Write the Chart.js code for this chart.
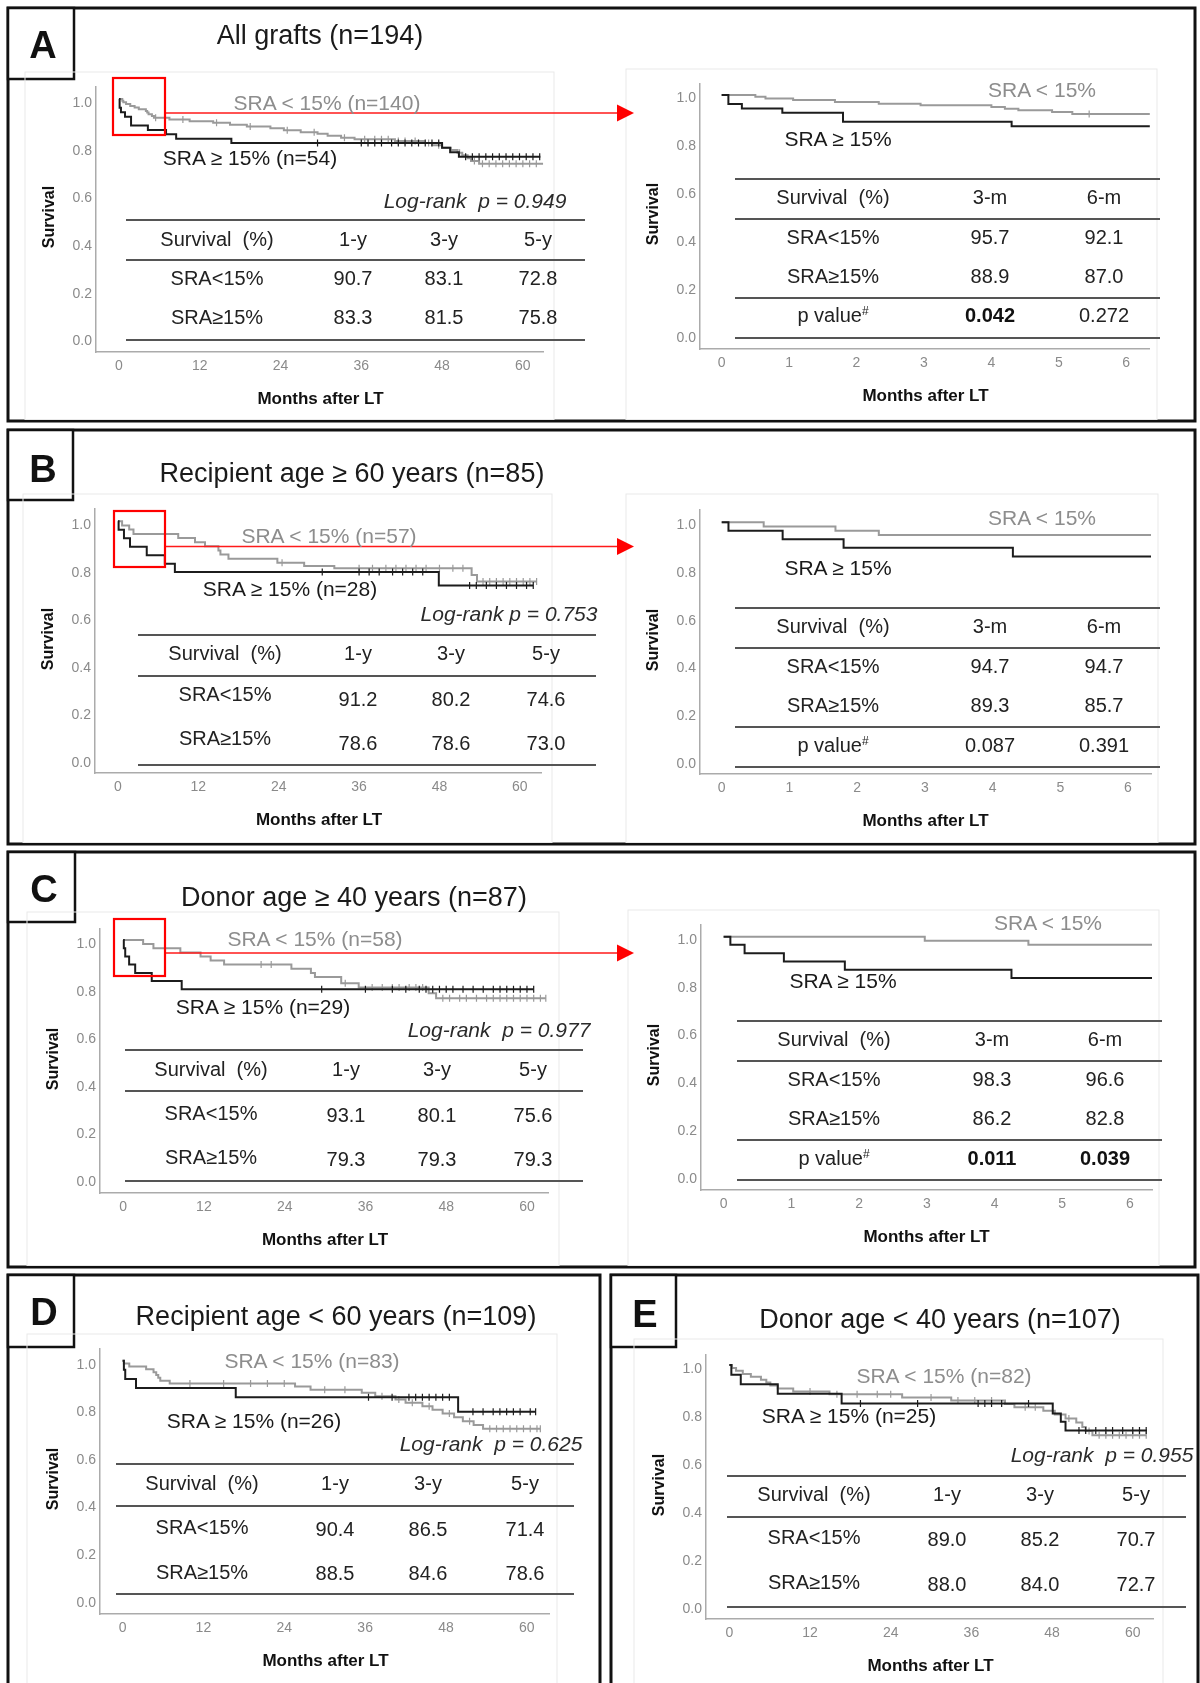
<!DOCTYPE html>
<html>
<head>
<meta charset="utf-8">
<script src="https://cdn.jsdelivr.net/npm/chart.js@4.4.1/dist/chart.umd.min.js"></script>
<style>
  html, body { margin: 0; padding: 0; background: #fff; }
  body { width: 1200px; height: 1683px; position: relative; overflow: hidden;
         font-family: "Liberation Sans", Arial, sans-serif; color: #222; }
  canvas { position: absolute; z-index: 1; }
  #deco { position: absolute; left: 0; top: 0; z-index: 2; pointer-events: none; }
  .t { position: absolute; white-space: pre; line-height: 1; z-index: 3;
       transform: translate(-50%, -50%); }
  .t sup { font-size: 0.6em; vertical-align: 0.55em; line-height: 0; }
</style>
</head>
<body>
<svg id="deco" width="1200" height="1683" xmlns="http://www.w3.org/2000/svg"></svg>
<script>
// ---------------- data ----------------
const panelLetters = ['A', 'B', 'C', 'D', 'E'];
const panelTitles = [
  'All grafts (n=194)',
  'Recipient age \u2265 60 years (n=85)',
  'Donor age \u2265 40 years (n=87)',
  'Recipient age < 60 years (n=109)',
  'Donor age < 40 years (n=107)'
];
const nLow = [140, 57, 58, 83, 82];
const nHigh = [54, 28, 29, 26, 25];
const logRankP = ['0.949', '0.753', '0.977', '0.625', '0.955'];
const groupRows = ['SRA<15%', 'SRA\u226515%'];

const xTicksYears = [0, 12, 24, 36, 48, 60];
const xTickLabelsYears = ['0', '12', '24', '36', '48', '60'];
const xTicksMonths = [0, 1, 2, 3, 4, 5, 6];
const xTickLabelsMonths = ['0', '1', '2', '3', '4', '5', '6'];
const yTicks = [0, 0.2, 0.4, 0.6, 0.8, 1.0];
const yTickLabels = ['0.0', '0.2', '0.4', '0.6', '0.8', '1.0'];

const yearCols = ['1-y', '3-y', '5-y'];
const monthCols = ['3-m', '6-m'];

// survival (%) at 1, 3, 5 years
const yearLow  = [[90.7, 83.1, 72.8], [91.2, 80.2, 74.6], [93.1, 80.1, 75.6], [90.4, 86.5, 71.4], [89.0, 85.2, 70.7]];
const yearHigh = [[83.3, 81.5, 75.8], [78.6, 78.6, 73.0], [79.3, 79.3, 79.3], [88.5, 84.6, 78.6], [88.0, 84.0, 72.7]];
// survival (%) at 3 and 6 months, with p values (panels A-C)
const monthLow  = [[95.7, 92.1], [94.7, 94.7], [98.3, 96.6]];
const monthHigh = [[88.9, 87.0], [89.3, 85.7], [86.2, 82.8]];
const monthP    = [[0.042, 0.272], [0.087, 0.391], [0.011, 0.039]];

// Kaplan-Meier steps: event times (months) and survival after each step
const A_lowT = [0, 0.5, 0.65, 1.06, 1.68, 2.33, 2.95, 4.0, 4.2, 4.4, 4.9, 5.2, 7.5, 10.5, 14, 16.5, 19, 22.5, 24.5, 27, 29.5, 31, 33, 35, 41, 45.3, 46.5, 48, 49.3, 50.3, 51, 51.8, 52.3, 53.5, 63];
const A_lowS = [1, .993, .986, .979, .971, .964, .957, .950, .943, .936, .929, .921, .914, .907, .900, .892, .885, .877, .869, .861, .854, .846, .838, .831, .824, .816, .806, .796, .786, .775, .764, .752, .740, .728, .728];
const A_lowCens = [5.45, 9.5, 14.5, 19.5, 25, 29, 33.5, 36.5, 38, 39, 40, 41.5, 42.5, 44, 46, 47.5, 50.6, 52.8, 54, 55, 56, 57, 58, 59, 60, 61, 62];
const A_highT = [0, 0.1, 0.3, 0.9, 1.8, 4.3, 7.0, 8.5, 16.7, 48.0, 49.2, 50.5, 62.6];
const A_highS = [1, .963, .944, .926, .889, .870, .852, .833, .815, .796, .777, .758, .758];
const A_highCens = [29.5, 36, 37, 38, 39, 40.5, 41.5, 42.5, 43.5, 44.5, 45.5, 46.5, 47.5, 51.5, 52.5, 53.5, 54.5, 55.5, 56.5, 57.5, 58.5, 59.5, 60.5, 61.5, 62.5];

const B_lowT = [0, 0.62, 1.68, 2.32, 9.0, 11.5, 13.0, 15.0, 15.3, 16.5, 23.8, 27.8, 32.3, 52.8, 53.6, 62.5];
const B_lowS = [1, .982, .965, .947, .930, .912, .895, .877, .860, .842, .825, .812, .802, .774, .746, .746];
const B_lowCens = [24.5, 36, 38, 40, 41.5, 43, 44.5, 46, 48, 50, 51.5, 54.5, 55.5, 56.5, 57.5, 58.5, 59.5, 60.5, 61.5, 62.5];
const B_highT = [0, 0.1, 0.9, 1.8, 4.3, 7.0, 8.5, 47.9, 62];
const B_highS = [1, .964, .929, .893, .857, .821, .786, .730, .730];
const B_highCens = [30.5, 36, 37.5, 39, 41, 42.5, 44, 45.5, 52.5, 53.5, 55, 56.5, 58, 59.5, 61, 62];

const C_lowT = [0, 2.97, 4.5, 8.5, 11.5, 13.0, 15.0, 25.0, 27.9, 28.5, 32.4, 35.0, 45.4, 46.5, 62.8];
const C_lowS = [1, .983, .966, .948, .931, .914, .897, .879, .862, .845, .819, .801, .776, .756, .756];
const C_lowCens = [20.5, 22, 33, 37, 38.5, 40, 41, 42.5, 43.5, 44.5, 47.5, 48.5, 50, 51, 52.5, 54, 55, 56, 57, 58, 59, 60, 61, 62, 62.8];
const C_highT = [0, 0.1, 0.31, 0.89, 1.79, 4.25, 8.7, 61];
const C_highS = [1, .966, .931, .897, .862, .828, .793, .793];
const C_highCens = [29.5, 36, 40, 42, 44, 45, 46, 47, 48, 49, 50.5, 52, 53.5, 55, 56, 57, 58, 59, 60, 61];

const D_lowT = [0, 0.2, 1.0, 3.5, 4.6, 5.0, 5.3, 5.6, 7.0, 25.6, 27.9, 35.5, 37.5, 40.5, 42.0, 44.5, 46.0, 47.5, 49.2, 50.5, 52.1, 53.5, 62];
const D_lowS = [1, .988, .976, .964, .952, .940, .928, .916, .904, .892, .878, .865, .851, .837, .823, .809, .794, .778, .762, .746, .730, .714, .714];
const D_lowCens = [10, 15, 19, 21.5, 24, 30, 33, 38.5, 41, 43, 45.5, 48.5, 51.5, 54.5, 55.5, 56.5, 57.5, 58.5, 59.5, 60.5, 61.5, 62];
const D_highT = [0, 0.2, 0.4, 2.0, 16.8, 49.8, 61.3];
const D_highS = [1, .962, .923, .885, .846, .786, .786];
const D_highCens = [36.5, 40, 42.5, 43.5, 44.5, 45.5, 46.5, 47.5, 48.5, 52, 53.5, 55, 56, 57, 58, 59, 60.5, 61.3];

const E_lowT = [0, 0.4, 1.0, 2.0, 3.2, 4.7, 5.5, 6.1, 7.2, 9.5, 14.9, 25.7, 33.0, 41.0, 42.4, 46.7, 48.4, 50.0, 51.6, 52.5, 53.0, 54.0, 62];
const E_lowS = [1, .988, .976, .963, .951, .939, .927, .915, .902, .890, .878, .865, .852, .838, .824, .809, .794, .777, .760, .742, .725, .707, .707];
const E_lowCens = [12, 16, 19, 22, 24, 30, 34, 36.5, 39, 44, 45.5, 50.5, 53.5, 55, 56, 57, 58, 59, 60, 61, 62];
const E_highT = [0, 0.3, 1.7, 7.2, 16.7, 48.1, 49.3, 50.0, 62.1];
const E_highS = [1, .960, .920, .880, .840, .798, .763, .727, .727];
const E_highCens = [19.5, 28, 37, 38, 39, 40.5, 44.5, 52, 53, 54.5, 56, 57, 58.5, 60, 61, 62];

const lowTimes = [A_lowT, B_lowT, C_lowT, D_lowT, E_lowT];
const lowSurv = [A_lowS, B_lowS, C_lowS, D_lowS, E_lowS];
const lowCens = [A_lowCens, B_lowCens, C_lowCens, D_lowCens, E_lowCens];
const highTimes = [A_highT, B_highT, C_highT, D_highT, E_highT];
const highSurv = [A_highS, B_highS, C_highS, D_highS, E_highS];
const highCens = [A_highCens, B_highCens, C_highCens, D_highCens, E_highCens];

// ---------------- styling ----------------
const FAM = '"Liberation Sans", Arial, sans-serif';
const COL_LOW = '#9a9a9a';
const COL_HIGH = '#1c1c1c';
const COL_LOW_TXT = '#8d8d8d';
const COL_AXIS = '#ababab';
const COL_TICK = '#8a8a8a';
const COL_RULE = '#555555';

// ---------------- layout ----------------
const panelBoxes = [[8, 8, 1195, 421], [8, 430, 1195, 844], [8, 852, 1195, 1267], [8, 1275, 600, 1700], [611, 1275, 1198, 1700]];
const letterBoxes = [[8, 8, 74, 79], [8, 430, 73, 500], [8, 852, 75, 922], [8, 1275, 74, 1347], [611, 1275, 676, 1347]];
const letterPos = [[43, 45], [43, 469], [44, 889], [44, 1312], [645, 1314]];
const titlePos = [[320, 35], [352, 473], [354, 897], [336, 1316], [940, 1319]];

// chart plot boxes: axis box (l, r, t, b), pixel of x=0 / last x tick,
// label pixel of y=1 / y=0, and the shift between tick label and value line (off)
const charts = [
  { p: 0, kind: 'yr', l: 96, r: 545, t: 78, b: 352, x0: 119, xN: 524, y1: 95, y0: 341, off: 4,
    frame: [25, 72, 554], lowLbl: [327, 102], highLbl: [250, 157], lr: [475, 200],
    rules: [220, 260, 340], rx: [126, 585], hy: 239, lblY: [278, 317], valY: [278, 317], cols: [217, 353, 444, 538] },
  { p: 0, kind: 'mo', l: 700, r: 1151, t: 75, b: 349, x0: 721.7, xN: 1127.4, y1: 90, y0: 337.3, off: 3,
    frame: [626, 69, 1157], lowLbl: [1042, 89], highLbl: [838, 138],
    rules: [179, 219, 298, 338], rx: [735, 1160], hy: 197, rowY: [237, 276, 315], cols: [833, 990, 1104] },
  { p: 1, kind: 'yr', l: 95, r: 543, t: 500, b: 773, x0: 118, xN: 521, y1: 517.3, y0: 762.3, off: 4,
    frame: [23, 494, 552], lowLbl: [329, 535], highLbl: [290, 588], lr: [509, 613], single: true,
    rules: [635, 676, 765], rx: [138, 596], hy: 653, lblY: [694, 738], valY: [699, 743], cols: [225, 358, 451, 546] },
  { p: 1, kind: 'mo', l: 700, r: 1151, t: 501, b: 774, x0: 721.7, xN: 1128, y1: 517.3, y0: 763.3, off: 3,
    frame: [626, 494, 1158], lowLbl: [1042, 517], highLbl: [838, 567],
    rules: [608, 648, 727, 767], rx: [735, 1160], hy: 626, rowY: [666, 705, 745], cols: [833, 990, 1104] },
  { p: 2, kind: 'yr', l: 100, r: 550, t: 920, b: 1193, x0: 123.2, xN: 528.1, y1: 936, y0: 1181.7, off: 4,
    frame: [27, 912, 559], lowLbl: [315, 938], highLbl: [263, 1006], lr: [499, 1029],
    rules: [1050, 1091, 1181], rx: [125, 583], hy: 1069, lblY: [1113, 1157], valY: [1115, 1159], cols: [211, 346, 437, 533] },
  { p: 2, kind: 'mo', l: 701, r: 1152, t: 916, b: 1190, x0: 723.6, xN: 1130, y1: 931.7, y0: 1179, off: 3,
    frame: [628, 910, 1159], lowLbl: [1048, 922], highLbl: [843, 980],
    rules: [1021, 1061, 1140, 1180], rx: [737, 1162], hy: 1039, rowY: [1079, 1118, 1158], cols: [834, 992, 1105] },
  { p: 3, kind: 'yr', l: 100, r: 551, t: 1340, b: 1614, x0: 122.6, xN: 528, y1: 1356.7, y0: 1602.3, off: 4,
    frame: [27, 1334, 557], lowLbl: [312, 1360], highLbl: [254, 1420], lr: [491, 1443],
    rules: [1464, 1506, 1594], rx: [116, 574], hy: 1483, lblY: [1527, 1572], valY: [1529, 1573], cols: [202, 335, 428, 525] },
  { p: 4, kind: 'yr', l: 706, r: 1155, t: 1346, b: 1619, x0: 729.4, xN: 1133.9, y1: 1361, y0: 1608.3, off: 4,
    frame: [634, 1339, 1163], lowLbl: [944, 1375], highLbl: [849, 1415], lr: [1102, 1454],
    rules: [1476, 1517, 1607], rx: [727, 1186], hy: 1494, lblY: [1537, 1582], valY: [1539, 1584], cols: [814, 947, 1040, 1136] }
];

// zoom call-outs (red box around the first months, pointer to the detail chart)
const callouts = [
  { box: [113, 78, 165, 135], y: 113, tip: 634 },
  { box: [114, 511, 165, 567], y: 546.5, tip: 634 },
  { box: [114, 919, 165, 976], y: 953, tip: 634 }
];

// ---------------- helpers ----------------
const svgNS = 'http://www.w3.org/2000/svg';
const deco = document.getElementById('deco');
function svgEl(tag, attrs) {
  const e = document.createElementNS(svgNS, tag);
  for (const k in attrs) e.setAttribute(k, attrs[k]);
  deco.appendChild(e);
  return e;
}
function hline(x1, x2, y, color, w) {
  svgEl('line', { x1, x2, y1: y, y2: y, stroke: color, 'stroke-width': w });
}
function txt(x, y, s, o = {}) {
  const d = document.createElement('div');
  d.className = 't';
  d.style.left = x + 'px';
  d.style.top = y + 'px';
  d.style.fontSize = (o.size || 20) + 'px';
  d.style.fontWeight = o.bold ? 'bold' : 'normal';
  d.style.fontStyle = o.italic ? 'italic' : 'normal';
  d.style.color = o.color || '#222';
  if (o.rotate) d.style.transform = 'translate(-50%, -50%) rotate(-90deg)';
  if (o.html) d.innerHTML = s; else d.textContent = s;
  document.body.appendChild(d);
  return d;
}
function stepValue(t, s, x) {
  let v = s[0];
  for (let i = 0; i < t.length; i++) if (t[i] <= x) v = s[i];
  return v;
}
function kmDatasets(t, s, cens, color, xmax) {
  const line = t.map((v, i) => ({ x: v, y: s[i] }));
  const marks = cens.filter(c => c <= xmax).map(c => ({ x: c, y: stepValue(t, s, c) }));
  return [
    { data: marks, showLine: false, pointStyle: 'line', pointRotation: 90, pointRadius: 3.5,
      pointBorderWidth: 1.2, pointBorderColor: color, borderColor: color, backgroundColor: color },
    { data: line, stepped: 'before', borderColor: color, borderWidth: 2, pointRadius: 0, fill: false }
  ];
}

// ---------------- panels ----------------
panelBoxes.forEach((b, i) => {
  svgEl('rect', { x: b[0], y: b[1], width: b[2] - b[0], height: b[3] - b[1], fill: 'none', stroke: '#111', 'stroke-width': 3 });
  const lb = letterBoxes[i];
  svgEl('rect', { x: lb[0], y: lb[1], width: lb[2] - lb[0], height: lb[3] - lb[1], fill: '#fff', stroke: '#111', 'stroke-width': 2.5 });
  txt(letterPos[i][0], letterPos[i][1], panelLetters[i], { size: 38, bold: true, color: '#111' });
  txt(titlePos[i][0], titlePos[i][1], panelTitles[i], { size: 27, color: '#1a1a1a' });
});

// ---------------- charts ----------------
charts.forEach(g => {
  const p = g.p;
  const yr = g.kind === 'yr';
  const xTicks = yr ? xTicksYears : xTicksMonths;
  const xLabels = yr ? xTickLabelsYears : xTickLabelsMonths;
  const ppx = (g.xN - g.x0) / xTicks[xTicks.length - 1];
  const v1 = g.y1 - g.off, v0 = g.y0 - g.off;   // pixel of value 1 and 0
  const ppy = v0 - v1;
  const xmin = (g.l - g.x0) / ppx, xmax = (g.r - g.x0) / ppx;
  const ymax = (v0 - g.t) / ppy, ymin = (v0 - g.b) / ppy;

  // faint frame of the plot image
  const pb = panelBoxes[p];
  svgEl('rect', { x: g.frame[0], y: g.frame[1], width: g.frame[2] - g.frame[0], height: pb[3] - g.frame[1] - 1.5,
    fill: 'none', stroke: '#e9e9e9', 'stroke-width': 1 });

  const padL = 44, padR = 4, padT = 4, padB = 30;
  const W = g.r - g.l + padL + padR, H = g.b - g.t + padT + padB;
  const cv = document.createElement('canvas');
  cv.width = W; cv.height = H;
  cv.style.width = W + 'px'; cv.style.height = H + 'px';
  cv.style.left = (g.l - padL) + 'px'; cv.style.top = (g.t - padT) + 'px';
  document.body.appendChild(cv);

  const datasets = [
    ...kmDatasets(highTimes[p], highSurv[p], highCens[p], COL_HIGH, xmax),
    ...kmDatasets(lowTimes[p], lowSurv[p], lowCens[p], COL_LOW, xmax)
  ];

  new Chart(cv, {
    type: 'line',
    data: { datasets },
    options: {
      responsive: false, animation: false, events: [],
      layout: { padding: { left: 0, right: padR, top: padT, bottom: 0 } },
      plugins: { legend: { display: false }, tooltip: { enabled: false } },
      scales: {
        x: {
          type: 'linear', min: xmin, max: xmax,
          afterFit: s => { s.height = padB; },
          afterBuildTicks: s => { s.ticks = xTicks.map(v => ({ value: v })); },
          ticks: { padding: 6, color: COL_TICK, font: { size: 14, family: FAM }, maxRotation: 0, autoSkip: false,
                   callback: (v, i) => xLabels[i] },
          grid: { display: false, drawTicks: false },
          border: { display: true, color: COL_AXIS, width: 1.5 }
        },
        y: {
          type: 'linear', min: ymin, max: ymax,
          afterFit: s => { s.width = padL; },
          afterBuildTicks: s => { s.ticks = yTicks.map(v => ({ value: v })); },
          ticks: { padding: 4, labelOffset: g.off, color: COL_TICK, font: { size: 14, family: FAM }, autoSkip: false,
                   callback: (v, i) => yTickLabels[i] },
          grid: { display: false, drawTicks: false },
          border: { display: true, color: COL_AXIS, width: 1.5 }
        }
      }
    }
  });

  // axis titles
  txt((g.l + g.r) / 2, g.b + 46, 'Months after LT', { size: 17, bold: true, color: '#111' });
  txt(g.l - 47.5, (g.t + g.b) / 2 + 2, 'Survival', { size: 16, bold: true, color: '#111', rotate: true });

  // curve labels
  if (yr) {
    txt(g.lowLbl[0], g.lowLbl[1], 'SRA < 15% (n=' + nLow[p] + ')', { size: 21, color: COL_LOW_TXT });
    txt(g.highLbl[0], g.highLbl[1], 'SRA \u2265 15% (n=' + nHigh[p] + ')', { size: 21, color: '#1a1a1a' });
    txt(g.lr[0], g.lr[1], 'Log-rank' + (g.single ? ' ' : '  ') + 'p = ' + logRankP[p], { size: 21, italic: true, color: '#2a2a2a' });
  } else {
    txt(g.lowLbl[0], g.lowLbl[1], 'SRA < 15%', { size: 21, color: COL_LOW_TXT });
    txt(g.highLbl[0], g.highLbl[1], 'SRA \u2265 15%', { size: 21, color: '#1a1a1a' });
  }

  // survival table
  g.rules.forEach(y => hline(g.rx[0], g.rx[1], y, COL_RULE, 2));
  const heads = yr ? yearCols : monthCols;
  txt(g.cols[0], g.hy, 'Survival  (%)', { size: 20 });
  heads.forEach((h, j) => txt(g.cols[j + 1], g.hy, h, { size: 20 }));
  if (yr) {
    [yearLow[p], yearHigh[p]].forEach((vals, r) => {
      txt(g.cols[0], g.lblY[r], groupRows[r], { size: 20 });
      vals.forEach((v, j) => txt(g.cols[j + 1], g.valY[r], v.toFixed(1), { size: 20 }));
    });
  } else {
    [monthLow[p], monthHigh[p]].forEach((vals, r) => {
      txt(g.cols[0], g.rowY[r], groupRows[r], { size: 20 });
      vals.forEach((v, j) => txt(g.cols[j + 1], g.rowY[r], v.toFixed(1), { size: 20 }));
    });
    txt(g.cols[0], g.rowY[2], 'p value<sup>#</sup>', { size: 20, html: true });
    monthP[p].forEach((v, j) => txt(g.cols[j + 1], g.rowY[2], v.toFixed(3), { size: 20, bold: v < 0.05, color: v < 0.05 ? '#111' : '#222' }));
  }
});

// ---------------- call-outs ----------------
callouts.forEach(c => {
  const [x1, y1, x2, y2] = c.box;
  svgEl('line', { x1: x2, x2: c.tip - 16, y1: c.y, y2: c.y, stroke: '#ff1a1a', 'stroke-width': 1.3 });
  svgEl('polygon', { points: `${c.tip - 17},${c.y - 8.5} ${c.tip},${c.y} ${c.tip - 17},${c.y + 8.5}`, fill: '#ff0000' });
  svgEl('rect', { x: x1, y: y1, width: x2 - x1, height: y2 - y1, fill: 'none', stroke: '#ff0000', 'stroke-width': 2.2 });
});
</script>
</body>
</html>
